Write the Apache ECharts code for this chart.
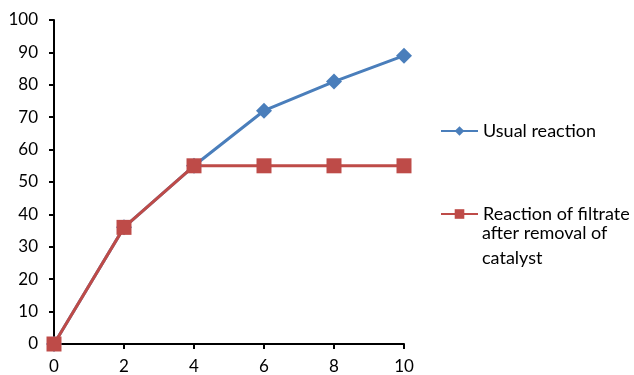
<!DOCTYPE html>
<html>
<head>
<meta charset="utf-8">
<script src="https://cdn.jsdelivr.net/npm/echarts@6/dist/echarts.min.js"></script>
<style>html,body{margin:0;padding:0;background:#fff;}#c{width:634px;height:375px;}</style>
</head>
<body>
<div id="c"></div>
<script>
var xValues = [0, 2, 4, 6, 8, 10];
var usualReaction = [0, 36, 55, 72, 81, 89];
var filtrateReaction = [0, 36, 55, 55, 55, 55];
var seriesNames = ['Usual reaction', 'Reaction of filtrate after removal of catalyst'];

function pairs(xs, ys) { return xs.map(function (x, i) { return [x, ys[i]]; }); }

var font = 'Lato, "Open Sans", sans-serif';
var chart = echarts.init(document.getElementById('c'));
chart.setOption({
  animation: false,
  backgroundColor: '#fff',
  grid: { left: 54, right: 230, top: 20, bottom: 30 },
  xAxis: {
    type: 'value', min: 0, max: 10, interval: 2,
    axisLine: { show: true, lineStyle: { color: '#000', width: 2 } },
    axisTick: { show: true, length: 5, lineStyle: { color: '#000', width: 2 } },
    splitLine: { show: false },
    axisLabel: { color: '#000', fontSize: 17, fontFamily: font, margin: 14 }
  },
  yAxis: {
    type: 'value', min: 0, max: 100, interval: 10,
    axisLine: { show: true, lineStyle: { color: '#000', width: 2 } },
    axisTick: { show: true, length: 5, lineStyle: { color: '#000', width: 2 } },
    splitLine: { show: false },
    axisLabel: { color: '#000', fontSize: 17, fontFamily: font, margin: 16 }
  },
  legend: [
    {
      data: [seriesNames[0]], orient: 'vertical', left: 435, top: 117,
      itemWidth: 37, itemHeight: 12,
      textStyle: { color: '#000', fontSize: 18, fontFamily: font }
    },
    {
      data: [seriesNames[1]], orient: 'vertical', left: 435, top: 200,
      itemWidth: 37, itemHeight: 12,
      formatter: function () { return 'Reaction of filtrate'; },
      textStyle: { color: '#000', fontSize: 18, fontFamily: font }
    }
  ],
  graphic: [{
    type: 'text', left: 482, top: 221,
    style: { text: 'after removal of\ncatalyst', fill: '#000', font: '18px ' + font, lineHeight: 25 }
  }],
  series: [
    {
      name: seriesNames[0], type: 'line', data: pairs(xValues, usualReaction),
      symbol: 'diamond', symbolSize: 16,
      lineStyle: { color: '#4A7EBB', width: 3 },
      itemStyle: { color: '#4A7EBB' }
    },
    {
      name: seriesNames[1], type: 'line', data: pairs(xValues, filtrateReaction),
      symbol: 'rect', symbolSize: 15,
      lineStyle: { color: '#BE4B48', width: 3 },
      itemStyle: { color: '#BE4B48' }
    }
  ]
});
</script>
</body>
</html>
